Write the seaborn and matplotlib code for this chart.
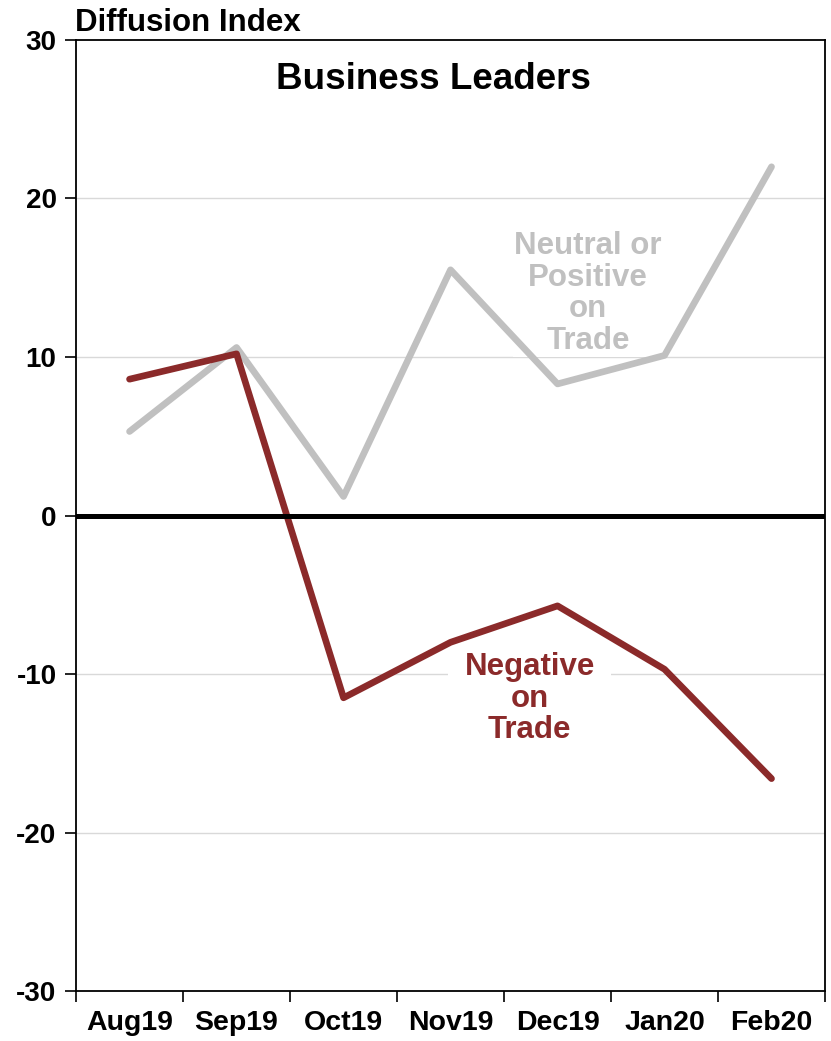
import seaborn as sns
import matplotlib.pyplot as plt
import pandas as pd

months = ['Aug19', 'Sep19', 'Oct19', 'Nov19', 'Dec19', 'Jan20', 'Feb20']
neutral_positive = [5.3, 10.6, 1.2, 15.5, 8.3, 10.1, 22.0]
negative = [8.6, 10.2, -11.5, -8.0, -5.7, -9.7, -16.6]

gray = '#C0C0C0'
red = '#8B2A2A'

df = pd.DataFrame({'pos': range(len(months)), 'month': months,
                   'neutral': neutral_positive, 'negative': negative})

sns.set_style('white')
plt.rcParams['font.family'] = ['Liberation Sans', 'DejaVu Sans']
plt.rcParams['font.weight'] = 'bold'
plt.rcParams['text.color'] = 'black'
plt.rcParams['xtick.color'] = 'black'
plt.rcParams['ytick.color'] = 'black'

fig = plt.figure(figsize=(8.31, 10.41), dpi=100)
ax = fig.add_axes([0.0915, 0.048, 0.9013, 0.9136])

for y in [-20, -10, 10, 20]:
    ax.axhline(y, color='#D9D9D9', lw=1, zorder=0.5)
ax.axhline(0, color='black', lw=3.6, zorder=3)

sns.lineplot(data=df, x='pos', y='neutral', color=gray, lw=4.8, ax=ax, zorder=2.5)
sns.lineplot(data=df, x='pos', y='negative', color=red, lw=4.8, ax=ax, zorder=2.6)

ax.set_xlim(-0.5, len(months) - 0.5)
ax.set_ylim(-30, 30)
ax.set_yticks([-30, -20, -10, 0, 10, 20, 30])
ax.set_yticklabels(['-30', '-20', '-10', '0', '10', '20', '30'], fontsize=20, fontweight='bold')
ax.set_xticks([i + 0.5 for i in range(-1, len(months))])
ax.set_xticklabels([])
ax.set_xticks(range(len(months)), minor=True)
ax.set_xticklabels(months, minor=True, fontsize=20.5, fontweight='bold')
ax.tick_params(axis='x', which='major', direction='out', length=8, width=1.2, color='black', bottom=True)
ax.tick_params(axis='x', which='minor', length=0, pad=14, labelcolor='black')
ax.tick_params(axis='y', direction='out', length=8, width=1.2, color='black', left=True, pad=6,
               labelcolor='black')
ax.set_xlabel('')
ax.set_ylabel('')

for s in ax.spines.values():
    s.set_color('black')
    s.set_linewidth(1.3)

ax.text(0.477, 0.958, 'Business Leaders', transform=ax.transAxes, ha='center', va='center',
        fontsize=26.5, fontweight='bold', color='black')
fig.text(0.09, 0.970, 'Diffusion Index', ha='left', va='baseline', fontsize=22.5,
         fontweight='bold', color='black')

ax.text(4.285, 14.0, 'Neutral or\nPositive\non\nTrade', ha='center', va='center', fontsize=22.5,
        fontweight='bold', color=gray, linespacing=1.07, zorder=1.5,
        bbox=dict(facecolor='white', edgecolor='none', pad=1))
ax.text(3.74, -11.55, 'Negative\non\nTrade', ha='center', va='center', fontsize=22.5,
        fontweight='bold', color=red, linespacing=1.07, zorder=1.5,
        bbox=dict(facecolor='white', edgecolor='none', pad=12))

fig.savefig('out.png', dpi=100)
